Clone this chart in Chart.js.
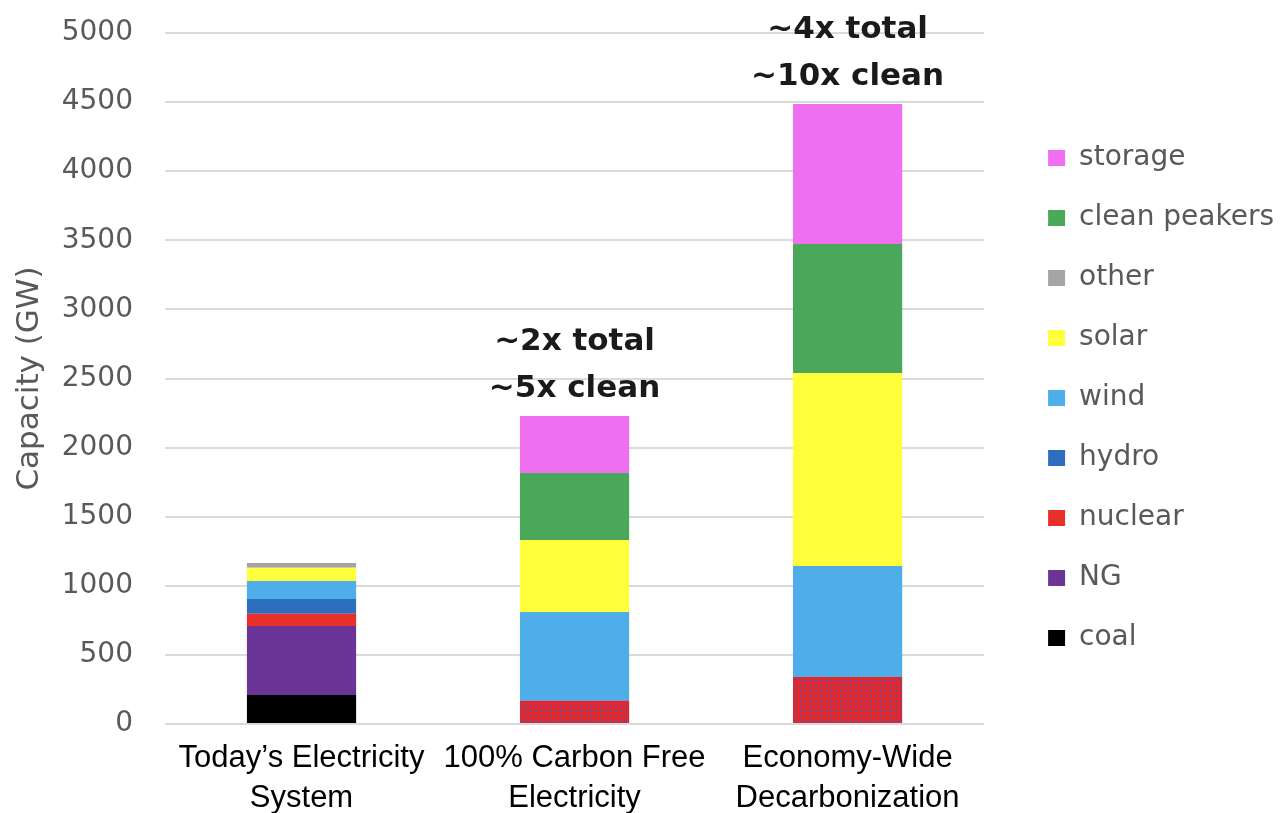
<!DOCTYPE html>
<html>
<head>
<meta charset="utf-8">
<title>Capacity (GW)</title>
<script src="https://cdn.jsdelivr.net/npm/chart.js@4/dist/chart.umd.min.js"></script>
<style>
    html, body { margin: 0; padding: 0; background: #ffffff; }
    #wrap { width: 1284px; height: 813px; position: relative; }
</style>
</head>
<body>
<div id="wrap"><canvas id="capacityChart"></canvas></div>
<script>
// Categories and stacked capacity values (GW)
const categories = [
    ['Today\u2019s Electricity', 'System'],
    ['100% Carbon Free', 'Electricity'],
    ['Economy-Wide', 'Decarbonization']
];
const coal = [210, 0, 0];
const naturalGas = [500, 0, 0];
const nuclear = [87, 0, 0];
const nuclearHydroMix = [0, 170, 340];
const hydro = [108, 0, 0];
const wind = [130, 640, 803];
const solar = [95, 521, 1397];
const other = [35, 0, 0];
const cleanPeakers = [0, 485, 933];
const storage = [0, 413, 1013];
const barNotes = [[], ['~2x total', '~5x clean'], ['~4x total', '~10x clean']];
const yTicks = [0, 500, 1000, 1500, 2000, 2500, 3000, 3500, 4000, 4500, 5000];

(function () {
    "use strict";
    Chart.defaults.font.family = "'DejaVu Sans', sans-serif";

    // red with blue dots, used for the nuclear/hydro block of the future bars
    const tile = document.createElement('canvas');
    tile.width = 5;
    tile.height = 5;
    const tctx = tile.getContext('2d');
    tctx.fillStyle = '#e2282c';
    tctx.fillRect(0, 0, 5, 5);
    tctx.fillStyle = '#6b4a96';
    tctx.fillRect(0, 0, 2, 2);
    const context = document.getElementById('capacityChart').getContext('2d');
    const hatch = context.createPattern(tile, 'repeat');

    const notesPlugin = {
        id: 'barNotes',
        afterDatasetsDraw: function (chart) {
            const ctx = chart.ctx;
            const xScale = chart.scales.x;
            const yScale = chart.scales.y;
            ctx.save();
            ctx.font = "bold 31px 'DejaVu Sans'";
            ctx.fillStyle = '#1a1a1a';
            ctx.textAlign = 'center';
            ctx.textBaseline = 'middle';
            barNotes.forEach(function (lines, i) {
                if (!lines.length) {
                    return;
                }
                let total = 0;
                chart.data.datasets.forEach(function (ds) {
                    total += ds.data[i];
                });
                const x = xScale.getPixelForValue(i);
                const top = yScale.getPixelForValue(total);
                lines.forEach(function (text, k) {
                    const y = top - 27 - (lines.length - 1 - k) * 47;
                    ctx.fillText(text, x, y);
                });
            });
            ctx.restore();
        }
    };

    const chart = new Chart(context, {
        type: 'bar',
        data: {
            labels: categories,
            datasets: [
                { label: 'coal', data: coal, backgroundColor: '#000000' },
                { label: 'NG', data: naturalGas, backgroundColor: '#6a3597' },
                { label: 'nuclear', data: nuclear, backgroundColor: '#e8302a' },
                { label: 'nuclear + hydro', data: nuclearHydroMix, backgroundColor: hatch },
                { label: 'hydro', data: hydro, backgroundColor: '#2e6ebf' },
                { label: 'wind', data: wind, backgroundColor: '#4fadea' },
                { label: 'solar', data: solar, backgroundColor: '#ffff3b' },
                { label: 'other', data: other, backgroundColor: '#a5a5a5' },
                { label: 'clean peakers', data: cleanPeakers, backgroundColor: '#4aa85a' },
                { label: 'storage', data: storage, backgroundColor: '#ee70f0' }
            ]
        },
        options: {
            responsive: true,
            maintainAspectRatio: false,
            animation: false,
            datasets: {
                bar: {
                    categoryPercentage: 1,
                    barPercentage: 0.4,
                    borderWidth: 0
                }
            },
            layout: {
                padding: { top: 33, right: 0, bottom: 0, left: 0 }
            },
            scales: {
                x: {
                    stacked: true,
                    grid: { display: false, drawTicks: false },
                    border: { display: false },
                    ticks: {
                        color: '#000000',
                        padding: 14,
                        maxRotation: 0,
                        autoSkip: false,
                        font: { family: "'Liberation Sans', Arial, sans-serif", size: 31, lineHeight: 1.3 }
                    },
                    afterFit: function (scale) {
                        scale.height = 89;
                    }
                },
                y: {
                    stacked: true,
                    min: 0,
                    max: 5000,
                    afterBuildTicks: function (scale) {
                        scale.ticks = yTicks.map(function (v) {
                            return { value: v };
                        });
                    },
                    grid: {
                        color: '#dadada',
                        lineWidth: 2,
                        drawTicks: true,
                        tickLength: 32,
                        tickColor: 'rgba(0, 0, 0, 0)'
                    },
                    border: { display: false },
                    ticks: {
                        color: '#595959',
                        padding: 0,
                        font: { size: 28 },
                        callback: function (value) {
                            return String(value);
                        }
                    },
                    title: {
                        display: true,
                        text: 'Capacity (GW)',
                        color: '#595959',
                        padding: { top: 11, bottom: 0 },
                        font: { size: 31, lineHeight: 1.2 }
                    },
                    afterFit: function (scale) {
                        scale.width = 165;
                    }
                },
                gap: {
                    position: 'right',
                    display: true,
                    grid: { display: false },
                    border: { display: false },
                    ticks: { display: false },
                    afterFit: function (scale) {
                        scale.width = 32;
                    }
                }
            },
            plugins: {
                legend: {
                    position: 'right',
                    fullSize: false,
                    reverse: true,
                    maxWidth: 320,
                    title: {
                        display: true,
                        text: '',
                        padding: 0,
                        font: { size: 30, lineHeight: 1.3 }
                    },
                    labels: {
                        boxWidth: 17,
                        boxHeight: 16,
                        padding: 32,
                        color: '#595959',
                        font: { size: 28 },
                        filter: function (item) {
                            return item.text !== 'nuclear + hydro';
                        }
                    }
                },
                tooltip: { enabled: false }
            }
        },
        plugins: [notesPlugin]
    });
}());
</script>
</body>
</html>
